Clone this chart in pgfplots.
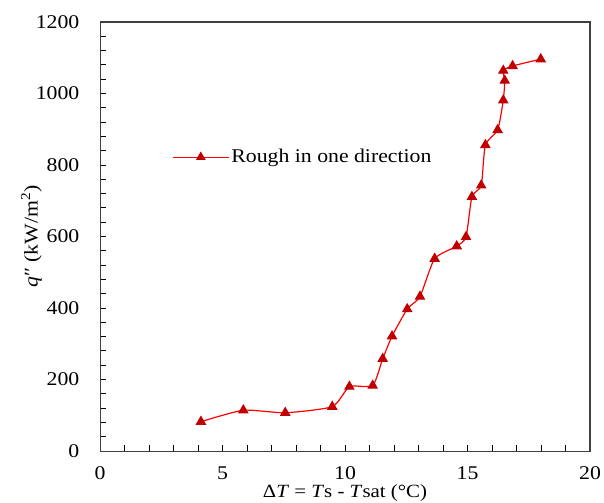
\documentclass[border=0pt]{standalone}
\usepackage{fontspec}
\setmainfont[FakeStretch=1.12]{Liberation Serif}
\usepackage{pgfplots}
\pgfplotsset{compat=1.18}
\definecolor{lred}{RGB}{255,0,0}
\definecolor{dred}{RGB}{192,0,0}
\definecolor{framec}{RGB}{64,64,64}
\begin{document}
\fontsize{19.5}{22}\selectfont
\begin{tikzpicture}
\begin{axis}[
  at={(100bp,52bp)}, anchor=origin,
  scale only axis, width=490bp, height=429bp,
  xmin=0, xmax=20, ymin=0, ymax=1200,
  xtick={0,5,10,15,20}, ytick={0,200,400,600,800,1000,1200},
  minor x tick num=4, minor y tick num=4,
  tick align=inside, xtick pos=left, ytick pos=left,
  major tick length=6bp, minor tick length=6bp,
  tick style={black, line width=0.8bp},
  axis line style={framec, line width=1bp},
  /pgf/number format/assume math mode=true,
  /pgf/number format/1000 sep={},
  ticklabel style={font=\fontsize{19.5}{22}\selectfont},
  yticklabel style={xshift=-14bp},
  xticklabel style={inner sep=0.5bp, yshift=-15bp},
  ylabel={\textit{q}″ (kW/m\textsuperscript{2})},
  ylabel style={at={(axis description cs:-0.14,0.5)}, anchor=center, font=\fontsize{19.5}{22}\selectfont},
  xlabel={Δ\textit{T} = \textit{T}s - \textit{T}sat (°C)},
  xlabel style={at={(rel axis cs:0.5,0)}, anchor=base, inner sep=0.5bp, yshift=-46.5bp, font=\fontsize{18.7}{22}\selectfont},
  legend style={at={(rel axis cs:0.147,0.685)}, anchor=west, draw=none, fill=none,
    font=\fontsize{19.5}{22}\selectfont, inner sep=0pt},
  legend cell align=left,
  legend image code/.code={
    \draw[lred, line width=1.2bp] (0bp,0bp) -- (56bp,0bp);
    \path plot[mark=triangle*, mark size=4.5bp, mark options={draw=dred, fill=dred}] coordinates {(28bp,0bp)};
  },
]
\addplot[lred, line width=1.2bp, smooth, tension=0.35,
  mark=triangle*, mark size=5bp, mark options={dred, fill=dred}]
coordinates {
(4.12,82) (5.85,114) (7.56,107) (9.48,124) (10.18,180) (11.13,183)
(11.54,258) (11.92,321) (12.54,397) (13.06,432) (13.66,538) (14.56,573)
(14.94,599) (15.18,711) (15.56,743) (15.73,856) (16.23,898) (16.46,981)
(16.52,1036) (16.46,1064) (16.84,1077) (17.99,1096)
};
\addlegendentry{Rough in one direction}
\draw[framec, line width=1.6bp] (rel axis cs:0,1) -- (rel axis cs:1,1) -- (rel axis cs:1,0);
\end{axis}
\pgfresetboundingbox
\path[use as bounding box] (0,0) rectangle (604bp,503bp);
\end{tikzpicture}
\end{document}
